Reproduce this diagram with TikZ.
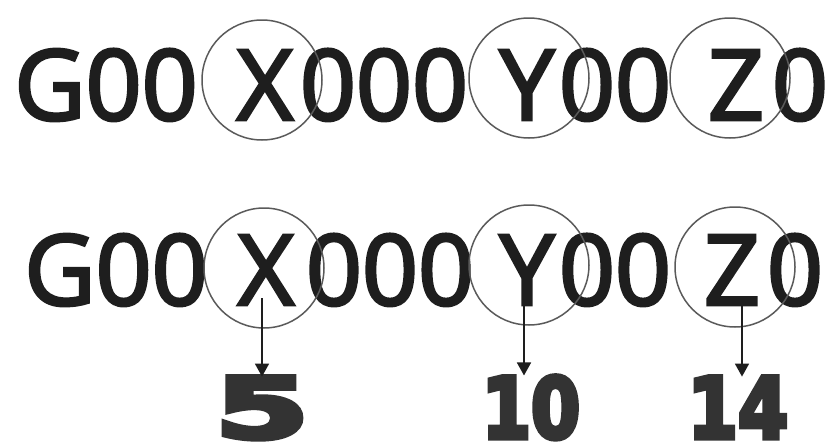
\documentclass[tikz,border=0pt]{standalone}
\usepackage{graphicx}
\usepackage{fontspec}
\setmainfont{Open Sans}
\newfontfamily\codefont[FakeBold=3]{Open Sans}
\newfontfamily\heavyfont[FakeBold=6]{DejaVu Sans Bold}
\usetikzlibrary{arrows.meta}
\definecolor{ink}{HTML}{1E1E1E}
\definecolor{ringgray}{HTML}{5A5A5A}
\definecolor{numgray}{HTML}{333333}

\begin{document}
\begin{tikzpicture}[x=1pt,y=-1pt,
  code/.style={inner sep=0pt, anchor=base, text=ink, font=\codefont\fontsize{98}{98}\selectfont},
  hoop/.style={circle, draw=ringgray, line width=1.5pt, minimum size=120pt, inner sep=0pt},
  pointer/.style={-{Triangle[width=14pt,length=13pt]}, line width=1.8pt, draw=ink},
  count/.style={inner sep=0pt, anchor=base, text=numgray, font=\heavyfont\fontsize{84}{84}\selectfont}]
  \useasboundingbox[fill=white] (0,0) rectangle (825,442);

  % First line
  \node[code] (g1)  at (106,120) {G00};
  \node[code] (x1)  at (265,120) {X};
  \node[code] (xz1) at (384,120) {000};
  \node[code] (y1)  at (527,120) {Y};
  \node[code] (yz1) at (615,120) {00};
  \node[code] (z1)  at (736,120) {Z};
  \node[code] (zz1) at (800,120) {0};

  \node[hoop] (cx1) at (262,80) {};
  \node[hoop] (cy1) at (529,78) {};
  \node[hoop] (cz1) at (730,78) {};

  % Second line
  \node[code] (g2)  at (116,305) {G00};
  \node[code] (x2)  at (266,305) {X};
  \node[code] (xz2) at (390,305) {000};
  \node[code] (y2)  at (527,305) {Y};
  \node[code] (yz2) at (615,305) {00};
  \node[code] (z2)  at (732,305) {Z};
  \node[code] (zz2) at (795,305) {0};

  \node[hoop] (cx2) at (264,268) {};
  \node[hoop] (cy2) at (529,265) {};
  \node[hoop] (cz2) at (735,267) {};

  % Values
  \node[count] (n5)  at (262,438) {\scalebox{1.6}[1]{5}};
  \node[count] (n10) at (531,438) {\scalebox{0.84}[1]{10}};
  \node[count] (n14) at (738,438) {\scalebox{0.86}[1]{14}};

  \coordinate (ax) at (262,298);
  \coordinate (ay) at (524,298);
  \coordinate (az) at (742,300);
  \draw[pointer] (ax) -- (ax |- n5.north);
  \draw[pointer] (ay) -- (ay |- n10.north);
  \draw[pointer] (az) -- (az |- n14.north);
\end{tikzpicture}
\end{document}
